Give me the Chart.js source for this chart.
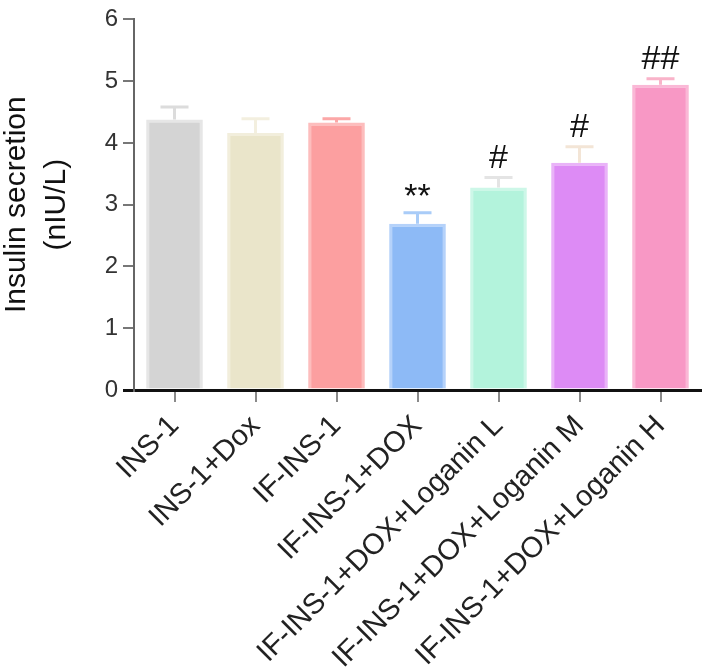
<!DOCTYPE html>
<html>
<head>
<meta charset="utf-8">
<script src="https://cdn.jsdelivr.net/npm/chart.js@4/dist/chart.umd.min.js"></script>
<style>
  html, body { margin: 0; padding: 0; background: #fff; }
  #wrap { width: 703px; height: 670px; }
</style>
</head>
<body>
<div id="wrap"><canvas id="c" width="703" height="670"></canvas></div>
<script>
// Insulin secretion per group, mean ± SEM

const groups = [
    'INS-1',
    'INS-1+Dox',
    'IF-INS-1',
    'IF-INS-1+DOX',
    'IF-INS-1+DOX+Loganin L',
    'IF-INS-1+DOX+Loganin M',
    'IF-INS-1+DOX+Loganin H'
];
const means = [4.38, 4.16, 4.33, 2.69, 3.28, 3.68, 4.94];
const errors = [0.20, 0.23, 0.06, 0.18, 0.16, 0.26, 0.10];
const marks = ['', '', '', '**', '#', '#', '##'];
const yTicks = [0, 1, 2, 3, 4, 5, 6];

const fills = ['#D4D4D4', '#EAE5CA', '#FC9FA0', '#8DBAF6', '#B3F3DC', '#DD8BF5', '#F898C5'];
const edges = ['#E6E6E6', '#F2EEDC', '#FDBDBD', '#B5D2FA', '#CDF7E8', '#E9B3F8', '#FAB8D6'];
const caps  = ['#DCDCDC', '#F3EFDF', '#FCA7A7', '#A9CCF8', '#E4E4E4', '#F3E5D6', '#F9B3C9'];

const font = 'Liberation Sans, Arial, sans-serif';

// error bars + significance marks, positioned through the chart's scales
const errorBars = {
    id: 'errorBars',
    afterDatasetsDraw(chart) {
        const { ctx, scales: { x, y } } = chart;
        ctx.save();
        means.forEach((m, i) => {
            const cx = x.getPixelForValue(i);
            const top = y.getPixelForValue(m + errors[i]);
            const base = y.getPixelForValue(m);
            ctx.strokeStyle = caps[i];
            ctx.lineWidth = 3;
            ctx.beginPath();
            ctx.moveTo(cx, base);
            ctx.lineTo(cx, top);
            ctx.moveTo(cx - 14, top);
            ctx.lineTo(cx + 14, top);
            ctx.stroke();
            if (marks[i]) {
                ctx.fillStyle = '#111';
                ctx.font = '34px ' + font;
                ctx.textAlign = 'center';
                ctx.textBaseline = 'alphabetic';
                const dy = marks[i].startsWith('*') ? 6 : 10;
                ctx.fillText(marks[i], cx, top - dy);
            }
        });
        ctx.restore();
    }
};

new Chart(document.getElementById('c'), {
    type: 'bar',
    data: {
        labels: groups,
        datasets: [{
            data: means,
            backgroundColor: fills,
            borderColor: edges,
            borderWidth: 3,
            borderSkipped: 'bottom',
            categoryPercentage: 1,
            barPercentage: 0.7
        }]
    },
    options: {
        responsive: false,
        animation: false,
        layout: { padding: { top: 14, right: 2, left: 0, bottom: 0 } },
        plugins: {
            legend: { display: false },
            tooltip: { enabled: false }
        },
        scales: {
            x: {
                afterFit: (s) => { s.height = 280; },
                border: { color: '#111', width: 3 },
                grid: {
                    drawOnChartArea: false,
                    offset: false,
                    tickLength: 12,
                    color: '#8a8a8a',
                    lineWidth: 2
                },
                ticks: {
                    color: '#222',
                    font: { family: font, size: 29 },
                    maxRotation: 45,
                    minRotation: 45,
                    padding: 7,
                    autoSkip: false
                }
            },
            y: {
                min: 0,
                max: 6,
                afterFit: (s) => { s.width = 134; },
                afterBuildTicks: (s) => { s.ticks = yTicks.map(v => ({ value: v })); },
                border: { color: '#666', width: 2 },
                grid: {
                    drawOnChartArea: false,
                    tickLength: 11,
                    color: (c) => c.tick && c.tick.value === 0 ? '#111' : '#777',
                    lineWidth: (c) => c.tick && c.tick.value === 0 ? 3 : 2
                },
                ticks: {
                    color: '#333',
                    font: { family: font, size: 24 },
                    padding: 5
                },
                title: {
                    display: true,
                    text: ['Insulin secretion', '(nIU/L)'],
                    color: '#111',
                    font: { family: font, size: 30, lineHeight: 1.33 },
                    padding: { top: -3, bottom: 0 }
                }
            }
        }
    },
    plugins: [errorBars]
});
</script>
</body>
</html>
